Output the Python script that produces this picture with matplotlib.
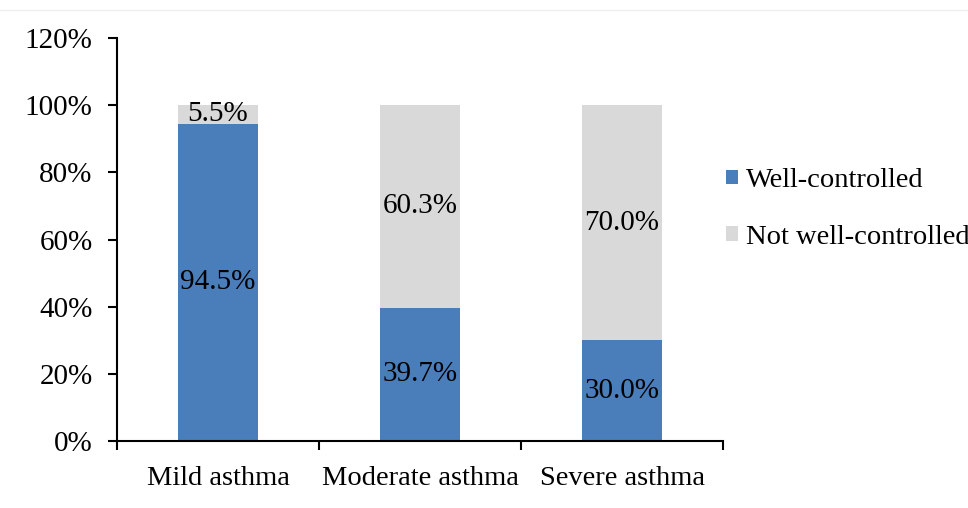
import matplotlib.pyplot as plt
from matplotlib.lines import Line2D
import numpy as np

categories = ["Mild asthma", "Moderate asthma", "Severe asthma"]
well_controlled = [94.5, 39.7, 30.0]
not_well_controlled = [5.5, 60.3, 70.0]
y_ticks = [0, 20, 40, 60, 80, 100, 120]

plt.rcParams['font.family'] = ['Liberation Serif', 'DejaVu Serif']

fig = plt.figure(figsize=(9.68, 5.08), dpi=100)
ax = fig.add_axes([117 / 968, 1 - 441 / 508, (723 - 117) / 968, (441 - 38) / 508])

x = np.arange(len(categories))
blue = '#4a7ebb'
grey = '#d9d9d9'
b1 = ax.bar(x, well_controlled, width=0.4, color=blue, label='Well-controlled')
b2 = ax.bar(x, not_well_controlled, width=0.4, bottom=well_controlled, color=grey,
            label='Not well-controlled')

for i in range(len(categories)):
    ax.text(x[i], well_controlled[i] / 2, f"{well_controlled[i]:.1f}%",
            ha='center', va='center', fontsize=21)
    ax.text(x[i], well_controlled[i] + not_well_controlled[i] / 2,
            f"{not_well_controlled[i]:.1f}%", ha='center', va='center', fontsize=21)

ax.set_xlim(-0.5, len(categories) - 0.5)
ax.set_ylim(0, 120)
ax.set_yticks(y_ticks)
ax.set_yticklabels([f"{v}%" for v in y_ticks], fontsize=21)
ax.tick_params(axis='y', length=6.5, width=1.5, direction='out', pad=11)

# category boundary ticks, labels centred on the bars
ax.set_xticks(np.arange(-0.5, len(categories), 1.0))
ax.set_xticklabels([])
ax.tick_params(axis='x', which='major', length=6.5, width=1.5, direction='out')
ax.set_xticks(x, minor=True)
ax.set_xticklabels(categories, minor=True, fontsize=20.5)
ax.tick_params(axis='x', which='minor', length=0, pad=18)

for s in ['top', 'right']:
    ax.spines[s].set_visible(False)
ax.spines['left'].set_linewidth(1.5)
ax.spines['bottom'].set_linewidth(1.5)

fig.legend(handles=[b1, b2], loc='upper left', bbox_to_anchor=(715 / 968, 1 - 157 / 508),
           frameon=False, fontsize=20.5, handlelength=0.4, handleheight=0.4,
           handletextpad=0.3, labelspacing=1.1, borderaxespad=0)

fig.add_artist(Line2D([0, 1], [1 - 10 / 508, 1 - 10 / 508], color='#eeeeee', lw=1))

fig.savefig('out.png', dpi=100)
